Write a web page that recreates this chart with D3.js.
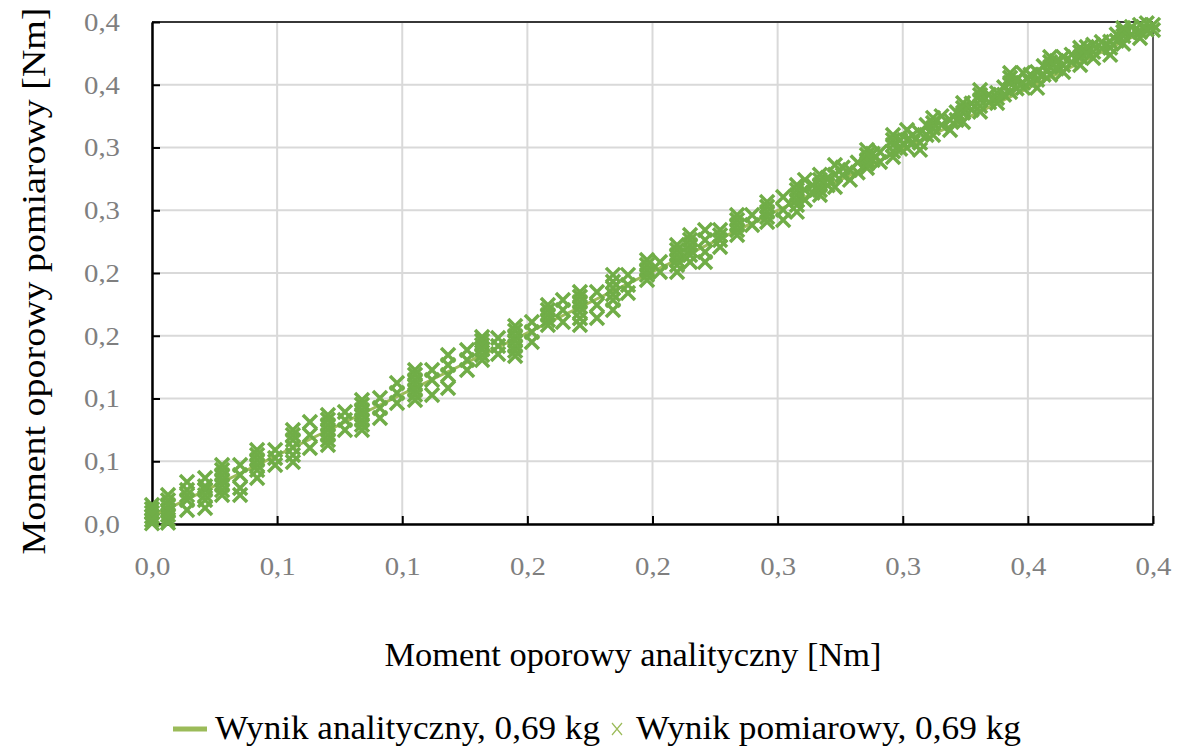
<!DOCTYPE html>
<html>
<head>
<meta charset="utf-8">
<script src="https://cdn.jsdelivr.net/npm/d3@7"></script>
<style>
  body { margin: 0; background: #fff; }
  svg text { font-family: "Liberation Serif", "Times New Roman", serif; }
</style>
</head>
<body>
<div id="chart"></div>
<script>
// measured points: one column of markers per analytic x value
var clusterX = [0.000, 0.0064, 0.0140, 0.0212, 0.0280, 0.0352, 0.0420, 0.0492, 0.0563, 0.0631,
  0.0703, 0.0771, 0.0839, 0.0911, 0.0979, 0.1051, 0.1119, 0.1183, 0.1259, 0.1319,
  0.1383, 0.1451, 0.1518, 0.1582, 0.1642, 0.1710, 0.1778, 0.1842, 0.1902, 0.1978,
  0.2030, 0.2098, 0.2150, 0.2210, 0.2270, 0.2338, 0.2398, 0.2458, 0.2522, 0.2577,
  0.2609, 0.2669, 0.2729, 0.2789, 0.2857, 0.2909, 0.2961, 0.3017, 0.3069, 0.3121,
  0.3189, 0.3241, 0.3309, 0.3377, 0.3429, 0.3481, 0.3537, 0.3589, 0.3641, 0.3709,
  0.3761, 0.3829, 0.3881, 0.3948, 0.4000];
var clusterY = [
  [0.0151, 0.0120, 0.0090, 0.0060, 0.0032, 0.0005],
  [0.0231, 0.0190, 0.0151, 0.0110, 0.0072, 0.0035, 0.0010],
  [0.0335, 0.0271, 0.0230, 0.0191, 0.0112],
  [0.0367, 0.0300, 0.0271, 0.0230, 0.0191, 0.0128],
  [0.0470, 0.0430, 0.0391, 0.0350, 0.0311, 0.0270, 0.0231],
  [0.0470, 0.0391, 0.0287, 0.0231],
  [0.0590, 0.0550, 0.0510, 0.0470, 0.0430, 0.0367],
  [0.0590, 0.0526, 0.0470],
  [0.0749, 0.0710, 0.0670, 0.0610, 0.0550, 0.0494],
  [0.0813, 0.0709, 0.0606],
  [0.0869, 0.0830, 0.0789, 0.0750, 0.0709, 0.0670, 0.0630],
  [0.0893, 0.0829, 0.0749],
  [0.0988, 0.0950, 0.0909, 0.0870, 0.0829, 0.0790, 0.0749],
  [0.1004, 0.0925, 0.0845],
  [0.1124, 0.1044, 0.0964],
  [0.1227, 0.1190, 0.1148, 0.1110, 0.1068, 0.1030, 0.0988],
  [0.1227, 0.1148, 0.1028],
  [0.1347, 0.1267, 0.1188, 0.1084],
  [0.1387, 0.1307, 0.1227],
  [0.1490, 0.1460, 0.1427, 0.1390, 0.1347, 0.1307],
  [0.1482, 0.1419, 0.1355],
  [0.1578, 0.1540, 0.1498, 0.1460, 0.1419, 0.1380, 0.1339],
  [0.1610, 0.1530, 0.1451],
  [0.1745, 0.1705, 0.1666, 0.1626, 0.1586],
  [0.1785, 0.1706, 0.1610],
  [0.1849, 0.1810, 0.1769, 0.1730, 0.1690, 0.1640, 0.1586],
  [0.1849, 0.1745, 0.1642],
  [0.1985, 0.1930, 0.1881, 0.1830, 0.1785, 0.1706],
  [0.1985, 0.1905, 0.1841],
  [0.2104, 0.2064, 0.2024, 0.1985, 0.1945],
  [0.2088, 0.2008],
  [0.2224, 0.2184, 0.2144, 0.2104, 0.2064, 0.2008],
  [0.2303, 0.2264, 0.2224, 0.2184, 0.2144, 0.2088],
  [0.2343, 0.2263, 0.2168, 0.2088],
  [0.2343, 0.2300, 0.2263, 0.2208],
  [0.2463, 0.2423, 0.2383, 0.2343, 0.2303],
  [0.2463, 0.2383],
  [0.2566, 0.2527, 0.2487, 0.2447, 0.2407],
  [0.2606, 0.2503, 0.2423],
  [0.2702, 0.2662, 0.2622, 0.2582, 0.2542, 0.2487],
  [0.2742, 0.2662, 0.2582],
  [0.2782, 0.2742, 0.2702, 0.2662, 0.2622],
  [0.2861, 0.2782, 0.2686],
  [0.2821, 0.2742],
  [0.2981, 0.2941, 0.2901, 0.2870, 0.2837],
  [0.2965, 0.2885],
  [0.3100, 0.3060, 0.3021, 0.2970, 0.2925],
  [0.3140, 0.3060, 0.2997],
  [0.3116, 0.3037, 0.2981],
  [0.3236, 0.3196, 0.3156, 0.3100],
  [0.3220, 0.3140],
  [0.3355, 0.3315, 0.3276, 0.3204],
  [0.3459, 0.3419, 0.3379, 0.3330, 0.3284],
  [0.3435, 0.3395, 0.3355],
  [0.3594, 0.3555, 0.3515, 0.3443],
  [0.3594, 0.3515, 0.3475],
  [0.3602, 0.3539, 0.3475],
  [0.3722, 0.3682, 0.3642, 0.3579],
  [0.3722, 0.3658, 0.3602],
  [0.3794, 0.3760, 0.3722, 0.3658],
  [0.3818, 0.3762, 0.3714],
  [0.3842, 0.3794, 0.3738],
  [0.3953, 0.3920, 0.3889, 0.3826],
  [0.3977, 0.3921, 0.3873],
  [0.3977, 0.3937]
];
// extra measured columns in the dense upper part of the run
var extraX = [0.2640, 0.2700, 0.2760, 0.2820, 0.2880, 0.2990, 0.3040, 0.3095, 0.3155, 0.3215,
  0.3275, 0.3345, 0.3405, 0.3455, 0.3510, 0.3563, 0.3615, 0.3675, 0.3735, 0.3795,
  0.3855, 0.3915, 0.3975];
var extraY = [
  [0.2700, 0.2640], [0.2760, 0.2700], [0.2840, 0.2780], [0.2880, 0.2800], [0.2950, 0.2900],
  [0.3060, 0.2990], [0.3100, 0.3040], [0.3180, 0.3100], [0.3250, 0.3180], [0.3280, 0.3220],
  [0.3350, 0.3300], [0.3420, 0.3360], [0.3480, 0.3420], [0.3540, 0.3470], [0.3580, 0.3520],
  [0.3650, 0.3580], [0.3690, 0.3630], [0.3740, 0.3680], [0.3800, 0.3750], [0.3840, 0.3790],
  [0.3900, 0.3850], [0.3960, 0.3900], [0.3990, 0.3940]
];
// analytical result (straight line)
var analyticX = [0.000, 0.400];
var analyticY = [0.006, 0.396];

var xTicks = [0, 0.05, 0.1, 0.15, 0.2, 0.25, 0.3, 0.35, 0.4];
var xTickLabels = ["0,0", "0,1", "0,1", "0,2", "0,2", "0,3", "0,3", "0,4", "0,4"];
var yTicks = [0, 0.05, 0.1, 0.15, 0.2, 0.25, 0.3, 0.35, 0.4];
var yTickLabels = ["0,0", "0,1", "0,1", "0,2", "0,2", "0,3", "0,3", "0,4", "0,4"];

var seriesNames = ["Wynik analityczny, 0,69 kg", "Wynik pomiarowy, 0,69 kg"];

var width = 1178, height = 749;
var margin = { top: 22, right: 25, bottom: 225, left: 152 };
var plotW = width - margin.left - margin.right;
var plotH = height - margin.top - margin.bottom;
var serif = "'Liberation Serif', 'Times New Roman', serif";

var svg = d3.select("#chart").append("svg")
  .attr("width", width)
  .attr("height", height);

var g = svg.append("g")
  .attr("transform", "translate(" + margin.left + "," + margin.top + ")");

var x = d3.scaleLinear().domain([0, 0.4]).range([0, plotW]);
var y = d3.scaleLinear().domain([0, 0.4]).range([plotH, 0]);

//gridlines
g.append("g").selectAll("line.vgrid").data(xTicks).enter().append("line")
  .attr("x1", d => x(d)).attr("x2", d => x(d))
  .attr("y1", 0).attr("y2", plotH)
  .attr("stroke", "#d9d9d9").attr("stroke-width", 2);
g.append("g").selectAll("line.hgrid").data(yTicks).enter().append("line")
  .attr("x1", 0).attr("x2", plotW)
  .attr("y1", d => y(d)).attr("y2", d => y(d))
  .attr("stroke", "#d9d9d9").attr("stroke-width", 2);

//frame: top and right
g.append("line").attr("x1", 0).attr("x2", plotW).attr("y1", 0).attr("y2", 0)
  .attr("stroke", "#000").attr("stroke-width", 1.5);
g.append("line").attr("x1", plotW).attr("x2", plotW).attr("y1", 0).attr("y2", plotH)
  .attr("stroke", "#333").attr("stroke-width", 1.5);

//axes
var xAxis = d3.axisBottom(x).tickValues(xTicks)
  .tickFormat((d, i) => xTickLabels[i]).tickSizeInner(-8).tickSizeOuter(0).tickPadding(33);
var yAxis = d3.axisLeft(y).tickValues(yTicks)
  .tickFormat((d, i) => yTickLabels[i]).tickSizeInner(-8).tickSizeOuter(0).tickPadding(32);

var gx = g.append("g").attr("transform", "translate(0," + plotH + ")").call(xAxis);
var gy = g.append("g").call(yAxis);
[gx, gy].forEach(function (ax) {
  ax.attr("font-family", serif).attr("font-size", 26);
  ax.select(".domain").attr("stroke", "#000").attr("stroke-width", 2.5);
  ax.selectAll(".tick line").attr("stroke", "#000").attr("stroke-width", 2);
  ax.selectAll(".tick text")
    .attr("fill", "#7f7f7f")
    .attr("textLength", 36)
    .attr("lengthAdjust", "spacingAndGlyphs");
});

//analytical line
var line = d3.line().x(d => x(d[0])).y(d => y(d[1]));
g.append("path")
  .datum(analyticX.map((v, i) => [v, analyticY[i]]))
  .attr("d", line)
  .attr("fill", "none")
  .attr("stroke", "#9bbb59")
  .attr("stroke-width", 3);

//measured points as x markers
var points = [];
clusterX.forEach(function (cx, i) {
  clusterY[i].forEach(function (cy) { points.push([cx, cy]); });
});
extraX.forEach(function (cx, i) {
  extraY[i].forEach(function (cy) { points.push([cx, cy]); });
});
var s = 7;
g.append("g").selectAll("path.mark").data(points).enter().append("path")
  .attr("d", d => {
    var px = x(d[0]), py = y(d[1]);
    return "M" + (px - s) + "," + (py - s) + "L" + (px + s) + "," + (py + s) +
      "M" + (px - s) + "," + (py + s) + "L" + (px + s) + "," + (py - s);
  })
  .attr("stroke", "#70ad47")
  .attr("stroke-width", 3.5)
  .attr("fill", "none");

//axis titles
svg.append("text")
  .attr("x", 633)
  .attr("y", 666)
  .attr("text-anchor", "middle")
  .attr("font-family", serif)
  .attr("font-size", 34)
  .attr("textLength", 497)
  .attr("lengthAdjust", "spacingAndGlyphs")
  .text("Moment oporowy analityczny [Nm]");
svg.append("text")
  .attr("transform", "translate(45,281) rotate(-90)")
  .attr("text-anchor", "middle")
  .attr("font-family", serif)
  .attr("font-size", 34)
  .attr("textLength", 547)
  .attr("lengthAdjust", "spacingAndGlyphs")
  .text("Moment oporowy pomiarowy [Nm]");

//legend
var leg = svg.append("g").attr("transform", "translate(0,729)");
leg.append("line").attr("x1", 173).attr("x2", 207).attr("y1", 0).attr("y2", 0)
  .attr("stroke", "#9bbb59").attr("stroke-width", 5);
leg.append("text").attr("x", 215).attr("y", 10)
  .attr("font-family", serif).attr("font-size", 34)
  .attr("textLength", 385).attr("lengthAdjust", "spacingAndGlyphs")
  .text(seriesNames[0]);
leg.append("path")
  .attr("d", "M612,-6L622,6M612,6L622,-6")
  .attr("stroke", "#9bbb59").attr("stroke-width", 1.2).attr("fill", "none");
leg.append("text").attr("x", 636).attr("y", 10)
  .attr("font-family", serif).attr("font-size", 34)
  .attr("textLength", 385).attr("lengthAdjust", "spacingAndGlyphs")
  .text(seriesNames[1]);
</script>
</body>
</html>
